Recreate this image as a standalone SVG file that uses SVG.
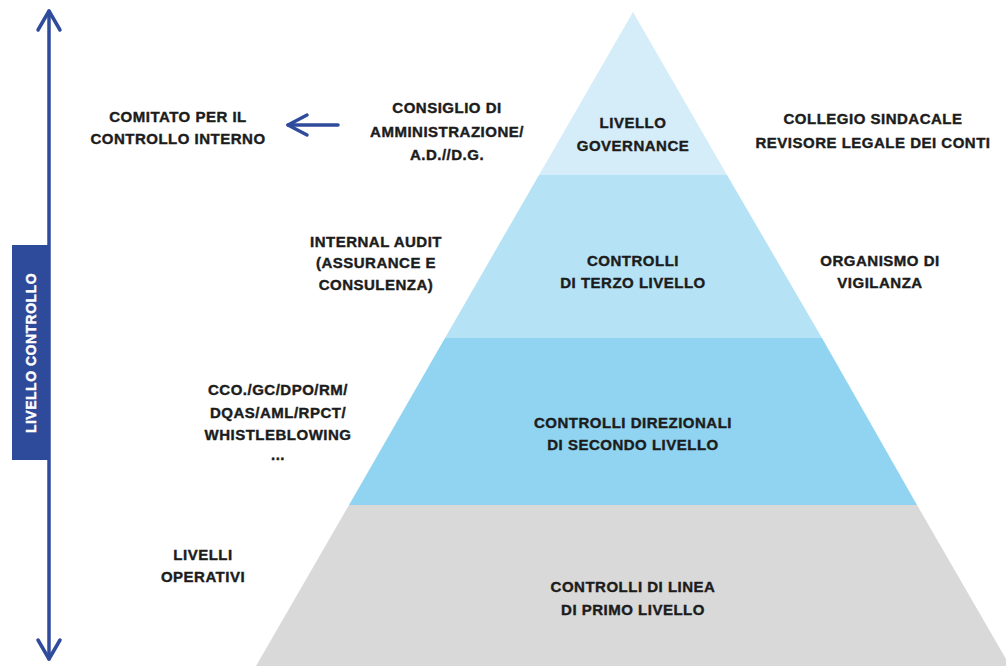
<svg xmlns="http://www.w3.org/2000/svg" width="1006" height="666" viewBox="0 0 1006 666">
<style>
.t{font-family:"Liberation Sans",Arial,sans-serif;font-weight:bold;font-size:15px;fill:#1c1c1c;stroke:#1c1c1c;stroke-width:0.4;text-anchor:middle;letter-spacing:0.5px}
.w{fill:#ffffff;stroke:#ffffff;font-size:14px}
.ln{stroke:#2f4b9b;stroke-width:3.5;fill:none;stroke-linecap:round;stroke-linejoin:round}
</style>
<rect width="1006" height="666" fill="#ffffff"/>
<g id="pyramid">
<g id="level-governance">
<polygon points="633,12 539,175 727,175" fill="#d5edf9"/>
<text class="t" x="633" y="128">LIVELLO</text>
<text class="t" x="633" y="151">GOVERNANCE</text>
</g>
<g id="level-terzo">
<polygon points="539,175 727,175 822,338 445,338" fill="#b6e2f6"/>
<text class="t" x="633" y="266">CONTROLLI</text>
<text class="t" x="633" y="288">DI TERZO LIVELLO</text>
</g>
<g id="level-secondo">
<polygon points="445,338 822,338 917,505 349,505" fill="#90d4f1"/>
<text class="t" x="633" y="428">CONTROLLI DIREZIONALI</text>
<text class="t" x="633" y="450">DI SECONDO LIVELLO</text>
</g>
<g id="level-primo">
<polygon points="349,505 917,505 1010,666 256,666" fill="#d9d9d9"/>
<text class="t" x="633" y="592">CONTROLLI DI LINEA</text>
<text class="t" x="633" y="615">DI PRIMO LIVELLO</text>
</g>
</g>
<g id="comitato">
<text class="t" x="178" y="122">COMITATO PER IL</text>
<text class="t" x="178" y="144">CONTROLLO INTERNO</text>
</g>
<g id="consiglio">
<text class="t" x="447" y="113">CONSIGLIO DI</text>
<text class="t" x="447" y="137">AMMINISTRAZIONE/</text>
<text class="t" x="447" y="160">A.D.//D.G.</text>
</g>
<g id="collegio">
<text class="t" x="873" y="124">COLLEGIO SINDACALE</text>
<text class="t" x="873" y="148">REVISORE LEGALE DEI CONTI</text>
</g>
<g id="internal-audit">
<text class="t" x="376" y="247">INTERNAL AUDIT</text>
<text class="t" x="376" y="268">(ASSURANCE E</text>
<text class="t" x="376" y="290">CONSULENZA)</text>
</g>
<g id="organismo">
<text class="t" x="880" y="266">ORGANISMO DI</text>
<text class="t" x="880" y="288">VIGILANZA</text>
</g>
<g id="cco">
<text class="t" x="278" y="395">CCO./GC/DPO/RM/</text>
<text class="t" x="278" y="418">DQAS/AML/RPCT/</text>
<text class="t" x="278" y="440">WHISTLEBLOWING</text>
<text class="t" x="278" y="460">...</text>
</g>
<g id="livelli-operativi">
<text class="t" x="203" y="560">LIVELLI</text>
<text class="t" x="203" y="582">OPERATIVI</text>
</g>
<g id="connectors">
<line class="ln" x1="49" y1="11" x2="49" y2="659"/>
<polyline class="ln" points="38,30 49,11 60,30"/>
<polyline class="ln" points="38,640 49,659 60,640"/>
<line class="ln" x1="338" y1="125" x2="288" y2="125"/>
<polyline class="ln" points="307,115 288,125 307,135"/>
</g>
<g id="livello-controllo">
<rect x="12" y="245" width="38" height="215" fill="#2e4a9a"/>
<text class="t w" transform="translate(36,353) rotate(-90)">LIVELLO CONTROLLO</text>
</g>
</svg>
